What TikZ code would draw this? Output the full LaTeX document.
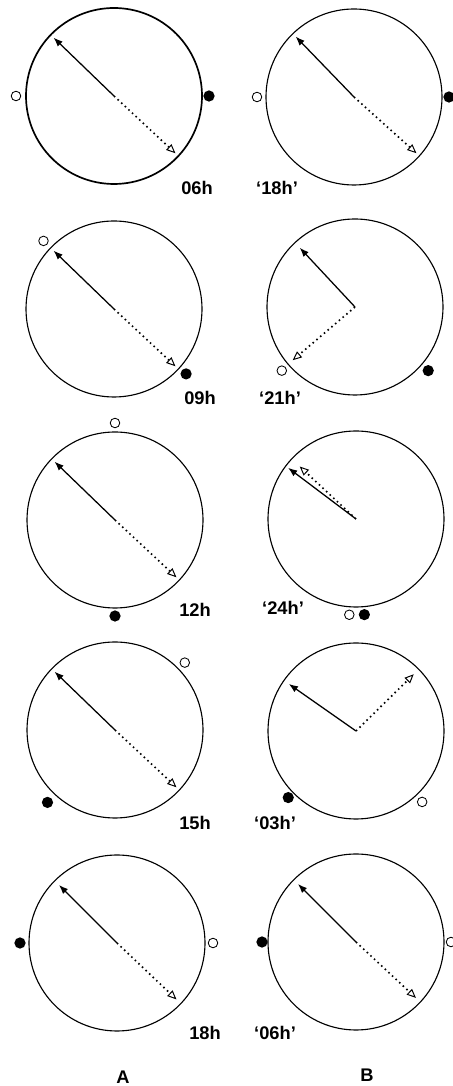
\documentclass[tikz,border=0pt]{standalone}
\usepackage{fontspec}
\setmainfont{Liberation Sans}
\usetikzlibrary{arrows.meta}

\begin{document}
\begin{tikzpicture}[x=0.025cm,y=0.025cm,
    dial/.style={line width=0.8pt},
    solidvec/.style={line width=0.9pt,-{Latex[length=6.5pt,width=5pt]}},
    dotvec/.style={line width=1.2pt,dash pattern=on 1.1pt off 2.4pt,
      -{Triangle[open,length=6.5pt,width=5.5pt,line width=0.7pt]}},
    opendot/.style={circle,draw,line width=0.6pt,fill=white,inner sep=0pt,minimum size=6.8pt},
    fulldot/.style={circle,fill=black,inner sep=0pt,minimum size=8pt},
    hour/.style={font=\fontsize{13}{15}\selectfont\bfseries,inner sep=0pt}]
      \useasboundingbox (0,0) rectangle (453,1086);

      % 06h / '18h'
      \coordinate (A1) at (114,990);
      \coordinate (A1s) at ([shift={(136:84)}]A1);
      \coordinate (A1d) at ([shift={(-43:84)}]A1);
      \node[opendot] (A1o) at ([shift={(180:98)}]A1) {};
      \node[fulldot] (A1f) at ([shift={(0:95)}]A1) {};
      \node[hour] (A1t) at (197,898) {06h};

      \coordinate (B1) at (354,989);
      \coordinate (B1s) at ([shift={(134:84)}]B1);
      \coordinate (B1d) at ([shift={(-42:84)}]B1);
      \node[opendot] (B1o) at ([shift={(180:97)}]B1) {};
      \node[fulldot] (B1f) at ([shift={(0:95)}]B1) {};
      \node[hour] (B1t) at (277,898) {‘18h’};

      % 09h / '21h'
      \coordinate (A2) at (114,777);
      \coordinate (A2s) at ([shift={(136:84)}]A2);
      \coordinate (A2d) at ([shift={(-43:84)}]A2);
      \node[opendot] (A2o) at ([shift={(136:98)}]A2) {};
      \node[fulldot] (A2f) at ([shift={(-42:97)}]A2) {};
      \node[hour] (A2t) at (200,688) {09h};

      \coordinate (B2) at (355,779);
      \coordinate (B2s) at ([shift={(133:81)}]B2);
      \coordinate (B2d) at ([shift={(220.5:82)}]B2);
      \node[opendot] (B2o) at ([shift={(221:97)}]B2) {};
      \node[fulldot] (B2f) at ([shift={(-41:97)}]B2) {};
      \node[hour] (B2t) at (280,688) {‘21h’};

      % 12h / '24h'
      \coordinate (A3) at (115,566);
      \coordinate (A3s) at ([shift={(136:84)}]A3);
      \coordinate (A3d) at ([shift={(-43:84)}]A3);
      \node[opendot] (A3o) at ([shift={(90:97)}]A3) {};
      \node[fulldot] (A3f) at ([shift={(270:96)}]A3) {};
      \node[hour] (A3t) at (195,476) {12h};

      \coordinate (B3) at (356,567);
      \coordinate (B3s) at ([shift={(143:85)}]B3);
      \coordinate (B3d) at ([shift={(137:77)}]B3);
      \node[opendot] (B3o) at ([shift={(266:96)}]B3) {};
      \node[fulldot] (B3f) at ([shift={(275:96)}]B3) {};
      \node[hour] (B3t) at (283,478) {‘24h’};

      % 15h / '03h'
      \coordinate (A4) at (115,356);
      \coordinate (A4s) at ([shift={(136:84)}]A4);
      \coordinate (A4d) at ([shift={(-43:84)}]A4);
      \node[opendot] (A4o) at ([shift={(44:97)}]A4) {};
      \node[fulldot] (A4f) at ([shift={(227:99)}]A4) {};
      \node[hour] (A4t) at (195,263) {15h};

      \coordinate (B4) at (356,355);
      \coordinate (B4s) at ([shift={(145:82)}]B4);
      \coordinate (B4d) at ([shift={(44.5:81)}]B4);
      \node[opendot] (B4o) at ([shift={(-47:97)}]B4) {};
      \node[fulldot] (B4f) at ([shift={(224.5:95)}]B4) {};
      \node[hour] (B4t) at (275,263) {‘03h’};

      % 18h / '06h'
      \coordinate (A5) at (117,143);
      \coordinate (A5s) at ([shift={(135:82)}]A5);
      \coordinate (A5d) at ([shift={(-43.5:82)}]A5);
      \node[opendot] (A5o) at ([shift={(0:96)}]A5) {};
      \node[fulldot] (A5f) at ([shift={(180:97)}]A5) {};
      \node[hour] (A5t) at (205,53) {18h};

      \coordinate (B5) at (356,144);
      \coordinate (B5s) at ([shift={(135:82)}]B5);
      \coordinate (B5d) at ([shift={(-43:82)}]B5);
      \node[opendot] (B5o) at ([shift={(0:95)}]B5) {};
      \node[fulldot] (B5f) at ([shift={(180:94)}]B5) {};
      \node[hour] (B5t) at (275,53) {‘06h’};

      \node[hour] (colA) at (123,9) {A};
      \node[hour] (colB) at (367,11) {B};

      \draw[dial,line width=1.2pt] (A1) circle (88);
      \draw[dial] (B1) circle (88);
      \draw[dial] (A2) circle (88);
      \draw[dial] (B2) circle (88);
      \draw[dial] (A3) circle (88);
      \draw[dial] (B3) circle (88);
      \draw[dial] (A4) circle (88);
      \draw[dial] (B4) circle (88);
      \draw[dial] (A5) circle (88);
      \draw[dial] (B5) circle (88);

      \draw[solidvec] (A1) -- (A1s);
      \draw[dotvec] (A1) -- (A1d);
      \draw[solidvec] (B1) -- (B1s);
      \draw[dotvec] (B1) -- (B1d);
      \draw[solidvec] (A2) -- (A2s);
      \draw[dotvec] (A2) -- (A2d);
      \draw[solidvec] (B2) -- (B2s);
      \draw[dotvec] (B2) -- (B2d);
      \draw[solidvec] (A3) -- (A3s);
      \draw[dotvec] (A3) -- (A3d);
      \draw[solidvec] (B3) -- (B3s);
      \draw[dotvec] (B3) -- (B3d);
      \draw[solidvec] (A4) -- (A4s);
      \draw[dotvec] (A4) -- (A4d);
      \draw[solidvec] (B4) -- (B4s);
      \draw[dotvec] (B4) -- (B4d);
      \draw[solidvec] (A5) -- (A5s);
      \draw[dotvec] (A5) -- (A5d);
      \draw[solidvec] (B5) -- (B5s);
      \draw[dotvec] (B5) -- (B5d);
    \end{tikzpicture}
\end{document}
